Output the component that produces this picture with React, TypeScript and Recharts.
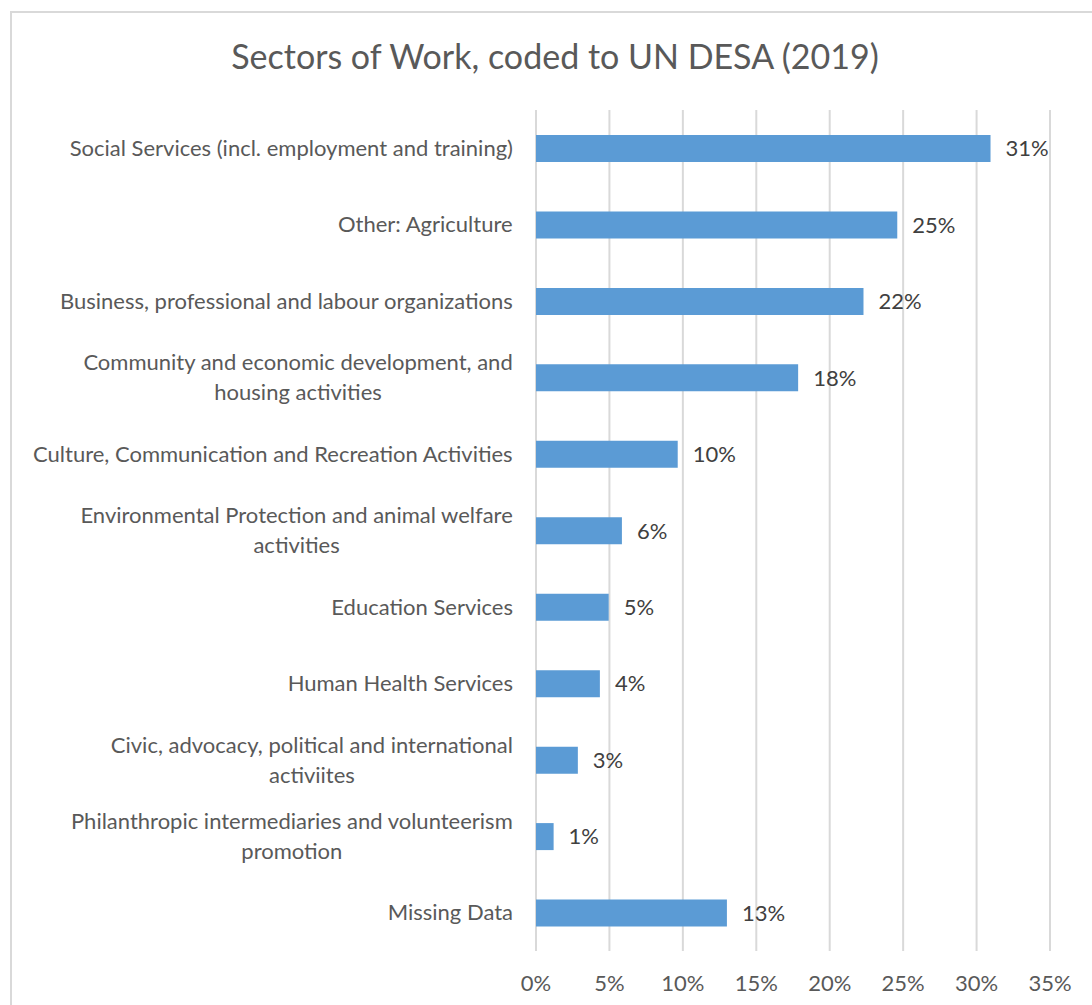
import { BarChart, Bar, XAxis, YAxis, CartesianGrid, LabelList } from 'recharts';

const sectors = [
  'Social Services (incl. employment and training)',
  'Other: Agriculture',
  'Business, professional and labour organizations',
  'Community and economic development, and\nhousing activities',
  'Culture, Communication and Recreation Activities',
  'Environmental Protection and animal welfare\nactivities',
  'Education Services',
  'Human Health Services',
  'Civic, advocacy, political and international\nactiviites',
  'Philanthropic intermediaries and volunteerism\npromotion',
  'Missing Data',
];

// share of organisations, in percent
const shares = [30.95, 24.6, 22.3, 17.85, 9.65, 5.85, 4.95, 4.35, 2.85, 1.2, 13.0];

const xTicks = [0, 5, 10, 15, 20, 25, 30, 35];

const FONT = 'Lato, "Open Sans", sans-serif';
const TEXT = '#595959';
const LABEL_SIZE = 22;

const data = sectors.map((name, i) => ({ name, value: shares[i] }));

let measureCtx: CanvasRenderingContext2D | null = null;
function textWidth(s: string, size: number) {
  if (!measureCtx) measureCtx = document.createElement('canvas').getContext('2d');
  if (!measureCtx) return s.length * size * 0.5;
  measureCtx.font = `${size}px Lato`;
  return measureCtx.measureText(s).width;
}

// category label: right aligned block, lines centered within it (like Excel)
function SectorTick({ x, y, payload }: { x?: number; y?: number; payload?: { value: string } }) {
  const lines = String(payload?.value ?? '').split('\n');
  const w = Math.max(...lines.map((l) => textWidth(l, LABEL_SIZE)));
  const cx = (x ?? 0) - w / 2;
  const lineH = 30;
  const y0 = (y ?? 0) - ((lines.length - 1) * lineH) / 2;
  return (
    <text textAnchor="middle" fontSize={LABEL_SIZE} fill={TEXT} fontFamily={FONT}>
      {lines.map((l, i) => (
        <tspan key={i} x={cx} y={y0 + i * lineH} dy="0.35em">
          {l}
        </tspan>
      ))}
    </text>
  );
}

export default function App() {
  return (
    <div style={{ position: 'absolute', left: 0, top: 0, width: 1092, height: 1005, overflow: 'hidden', background: '#fff' }}>
      <div
        style={{
          position: 'absolute',
          left: 10,
          top: 11,
          width: 1200,
          height: 1200,
          border: '2px solid #d9d9d9',
        }}
      />
      <div
        style={{
          position: 'absolute',
          left: 0,
          top: 35,
          width: 1110,
          textAlign: 'center',
          fontFamily: FONT,
          fontSize: 34,
          lineHeight: '42px',
          color: TEXT,
        }}
      >
        Sectors of Work, coded to UN DESA (2019)
      </div>
      <div style={{ position: 'absolute', left: 0, top: 0 }}>
        <BarChart
          width={1092}
          height={1005}
          data={data}
          layout="vertical"
          margin={{ top: 110, right: 42, bottom: 24, left: 10 }}
        >
          <CartesianGrid horizontal={false} stroke="#d9d9d9" strokeWidth={2} />
          <XAxis
            type="number"
            domain={[0, 35]}
            ticks={xTicks}
            interval={0}
            height={30}
            axisLine={false}
            tickLine={false}
            tickSize={0}
            tickMargin={24}
            tickFormatter={(v: number) => `${v}%`}
            tick={{ fontSize: LABEL_SIZE, fill: TEXT, fontFamily: FONT }}
          />
          <YAxis
            type="category"
            dataKey="name"
            width={526}
            axisLine={false}
            tickLine={false}
            tickSize={0}
            tickMargin={23}
            interval={0}
            tick={<SectorTick />}
          />
          <Bar dataKey="value" fill="#5b9bd5" barSize={27} isAnimationActive={false}>
            <LabelList
              dataKey="value"
              position="right"
              offset={15}
              formatter={(v: number) => `${Math.round(v)}%`}
              style={{ fontSize: LABEL_SIZE, fill: '#404040', fontFamily: FONT }}
            />
          </Bar>
        </BarChart>
      </div>
    </div>
  );
}
